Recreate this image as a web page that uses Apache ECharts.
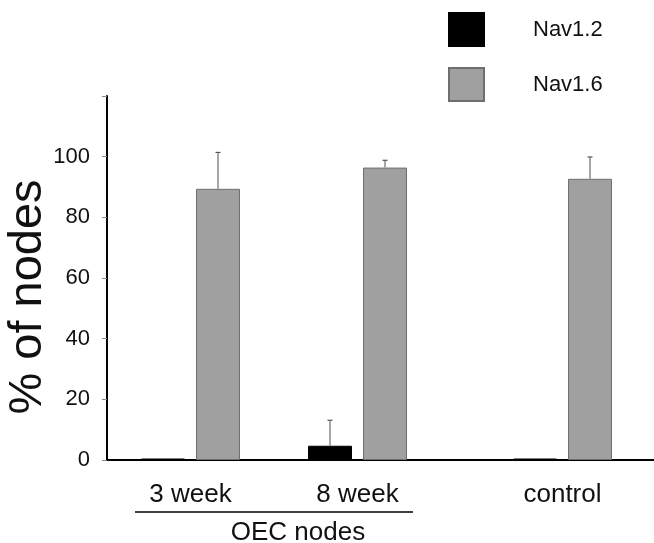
<!DOCTYPE html>
<html>
<head>
<meta charset="utf-8">
<script src="https://cdn.jsdelivr.net/npm/echarts@6/dist/echarts.min.js"></script>
<style>
html,body{margin:0;padding:0;background:#fff;}
#chart{width:654px;height:543px;}
</style>
</head>
<body>
<div id="chart"></div>
<script>
// ---- data ----
var categories = ['3 week', '8 week', 'control'];
var groupName = 'OEC nodes';
var groupSize = 2; // first two categories belong to OEC nodes
var seriesNames = ['Nav1.2', 'Nav1.6'];
var nav12 = [0, 4.7, 0];
var nav12Err = [0, 8.4, 0];
var nav16 = [89.4, 96.4, 92.7];
var nav16Err = [12.0, 2.4, 7.2];
var yTicks = [0, 20, 40, 60, 80, 100, 120];
var yLabelHidden = [120];
var yTitle = '% of nodes';

// ---- styles ----
var FONT = 'Liberation Sans, Arial, sans-serif';
var BAR_W = 44;
var BAR_GAP_PX = 11;
var colors = ['#000000', '#a0a0a0'];
var borders = ['#000000', '#6e6e6e'];

var chart = echarts.init(document.getElementById('chart'));

var catsA = categories.slice(0, groupSize);
var catsB = categories.slice(groupSize);

function errSeries(values, errs, gridIdx, sign) {
  var data = [];
  for (var i = 0; i < values.length; i++) data.push([i, values[i], errs[i]]);
  return {
    type: 'custom',
    xAxisIndex: gridIdx, yAxisIndex: gridIdx,
    silent: true, z: 3,
    data: data,
    renderItem: function (params, api) {
      var e = api.value(2);
      if (!e) return null;
      var v = api.value(1);
      var p0 = api.coord([api.value(0), v]);
      var p1 = api.coord([api.value(0), v + e]);
      var x = p0[0] + sign * (BAR_W + BAR_GAP_PX) / 2;
      return {
        type: 'group',
        children: [
          {type: 'line', shape: {x1: x, y1: p0[1], x2: x, y2: p1[1]}, style: {stroke: '#8a8a8a', lineWidth: 1.5}},
          {type: 'line', shape: {x1: x - 2.5, y1: p1[1], x2: x + 2.5, y2: p1[1]}, style: {stroke: '#555', lineWidth: 1.2}}
        ]
      };
    }
  };
}

function barSeries(name, vals, gridIdx, idx) {
  return {
    name: name, type: 'bar',
    xAxisIndex: gridIdx, yAxisIndex: gridIdx,
    data: vals,
    barWidth: BAR_W,
    barGap: (BAR_GAP_PX / BAR_W * 100) + '%',
    barMinHeight: 1.5,
    itemStyle: {color: colors[idx], borderColor: borders[idx], borderWidth: 1},
    emphasis: {disabled: true}
  };
}

var yAxisBase = {
  type: 'value', min: yTicks[0], max: yTicks[yTicks.length - 1], interval: yTicks[1] - yTicks[0],
  splitLine: {show: false}
};

var option = {
  animation: false,
  backgroundColor: '#ffffff',
  textStyle: {fontFamily: FONT},
  legend: {
    data: seriesNames,
    orient: 'vertical',
    left: 448, top: 12, padding: 0,
    itemWidth: 35, itemHeight: 33, itemGap: 20,
    icon: 'rect',
    selectedMode: false,
    textStyle: {fontSize: 22, color: '#111', fontFamily: FONT, padding: [0, 0, 0, 44]}
  },
  grid: [
    {left: 107, top: 96, width: 334, height: 364, containLabel: false, outerBoundsMode: 'none'},
    {left: 441, top: 96, width: 243, height: 364, containLabel: false, outerBoundsMode: 'none'}
  ],
  xAxis: [
    {gridIndex: 0, type: 'category', data: catsA,
     axisLine: {lineStyle: {color: '#000', width: 2}}, axisTick: {show: false},
     axisLabel: {fontSize: 26, color: '#111', margin: 22, fontFamily: FONT}},
    {gridIndex: 1, type: 'category', data: catsB,
     axisLine: {lineStyle: {color: '#000', width: 2}}, axisTick: {show: false},
     axisLabel: {fontSize: 26, color: '#111', margin: 22, fontFamily: FONT}}
  ],
  yAxis: [
    Object.assign({}, yAxisBase, {gridIndex: 0,
      axisLine: {show: true, lineStyle: {color: '#000', width: 2}},
      axisTick: {show: true, length: 5, lineStyle: {color: '#888'}},
      axisLabel: {fontSize: 22, color: '#111', margin: 17, fontFamily: FONT,
        formatter: function (v) { return yLabelHidden.indexOf(v) >= 0 ? '' : String(v); }}
    }),
    Object.assign({}, yAxisBase, {gridIndex: 1, show: false})
  ],
  series: [
    barSeries(seriesNames[0], nav12.slice(0, groupSize), 0, 0),
    barSeries(seriesNames[1], nav16.slice(0, groupSize), 0, 1),
    barSeries(seriesNames[0], nav12.slice(groupSize), 1, 0),
    barSeries(seriesNames[1], nav16.slice(groupSize), 1, 1),
    errSeries(nav12.slice(0, groupSize), nav12Err.slice(0, groupSize), 0, -1),
    errSeries(nav16.slice(0, groupSize), nav16Err.slice(0, groupSize), 0, 1),
    errSeries(nav12.slice(groupSize), nav12Err.slice(groupSize), 1, -1),
    errSeries(nav16.slice(groupSize), nav16Err.slice(groupSize), 1, 1)
  ],
  graphic: [
    {type: 'text', x: 28, y: 297, rotation: Math.PI / 2,
     style: {text: yTitle, fontSize: 47, fill: '#111', fontFamily: FONT, align: 'center', verticalAlign: 'middle'}},
    {type: 'line', shape: {x1: 135, y1: 512, x2: 413, y2: 512}, style: {stroke: '#000', lineWidth: 1.5}},
    {type: 'text', x: 298, y: 533, style: {text: groupName, fontSize: 26, fill: '#111', fontFamily: FONT, align: 'center', verticalAlign: 'middle'}}
  ]
};

chart.setOption(option);
</script>
</body>
</html>
